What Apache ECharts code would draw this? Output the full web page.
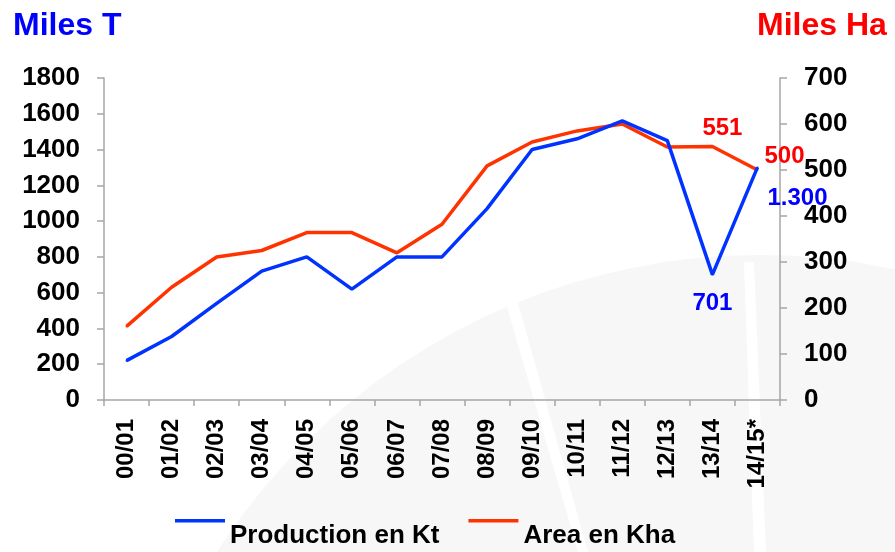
<!DOCTYPE html>
<html>
<head>
<meta charset="utf-8">
<script src="https://cdn.jsdelivr.net/npm/echarts@6/dist/echarts.min.js"></script>
<style>
  html, body { margin: 0; padding: 0; background: #ffffff; }
  #main { width: 895px; height: 552px; }
</style>
</head>
<body>
<div id="main"></div>
<script>
var seasons = ['00/01', '01/02', '02/03', '03/04', '04/05', '05/06', '06/07', '07/08',
  '08/09', '09/10', '10/11', '11/12', '12/13', '13/14', '14/15*'];
// Production en Kt (left axis, miles T)
var production = [220, 355, 540, 720, 800, 620, 800, 800, 1070, 1400, 1460, 1560, 1450, 701, 1300];
// Area en Kha (right axis, miles Ha)
var area = [160, 245, 311, 325, 364, 364, 320, 382, 509, 561, 585, 600, 550, 551, 500];
// labelled points and their text
var productionLabels = { 13: '701', 14: '1.300' };
var areaLabels = { 13: '551', 14: '500' };

var chartDom = document.getElementById('main');
var myChart = echarts.init(chartDom);
var option;

var font = 'Liberation Sans, Arial, sans-serif';
var axisGrey = '#a6a6a6';

// label placement for the few annotated points
var prodLabelStyle = {
  13: { position: 'bottom', distance: 16 },
  14: { position: 'right', distance: 9, offset: [0, 31] }
};
var areaLabelStyle = {
  13: { position: 'top', distance: 5, offset: [10, 0] },
  14: { position: 'top', distance: 5, offset: [27, 4] }
};

function buildData(values, labels, styles, color) {
  return values.map(function (v, i) {
    if (labels[i] === undefined) return v;
    var s = styles[i];
    return {
      value: v,
      label: {
        show: true,
        formatter: labels[i],
        position: s.position,
        distance: s.distance,
        offset: s.offset || [0, 0],
        color: color,
        fontFamily: font,
        fontWeight: 'bold',
        fontSize: 24
      }
    };
  });
}

option = {
  animation: false,
  backgroundColor: '#ffffff',
  // faint watermark behind the plot
  graphic: [
    {
      type: 'circle',
      z: -10,
      silent: true,
      shape: { cx: 760, cy: 900, r: 645 },
      style: { fill: '#f7f7f7' }
    },
    {
      type: 'polygon',
      z: -9,
      silent: true,
      shape: { points: [[744, 262], [754, 262], [766, 552], [754, 552]] },
      style: { fill: '#ffffff' }
    },
    {
      type: 'polygon',
      z: -9,
      silent: true,
      shape: { points: [[505, 300], [516, 296], [588, 552], [578, 552]] },
      style: { fill: '#ffffff' }
    }
  ],
  title: [
    {
      text: 'Miles T',
      left: 13,
      top: 10,
      padding: 0,
      textStyle: { color: '#0000ff', fontFamily: font, fontWeight: 'bold', fontSize: 32 }
    },
    {
      text: 'Miles Ha',
      left: 757,
      top: 10,
      padding: 0,
      textStyle: { color: '#ff0000', fontFamily: font, fontWeight: 'bold', fontSize: 32 }
    }
  ],
  legend: {
    selectedMode: false,
    left: 175,
    top: 519,
    padding: 0,
    itemWidth: 50,
    itemHeight: 34,
    itemGap: 29,
    icon: 'path://M0,0h50v3.5h-50z M0,34h50v0.01h-50z',
    textStyle: { color: '#000000', fontFamily: font, fontWeight: 'bold', fontSize: 26 },
    data: ['Production en Kt', 'Area en Kha']
  },
  grid: {
    left: 104,
    right: 115,
    top: 78,
    bottom: 152,
    containLabel: false
  },
  xAxis: {
    type: 'category',
    boundaryGap: true,
    data: seasons,
    axisLine: { lineStyle: { color: axisGrey, width: 1.5 } },
    axisTick: { show: true, length: 6, alignWithLabel: false, lineStyle: { color: axisGrey, width: 1.5 } },
    axisLabel: {
      rotate: 90,
      interval: 0,
      margin: 19,
      color: '#000000',
      fontFamily: font,
      fontWeight: 'bold',
      fontSize: 24
    },
    splitLine: { show: false }
  },
  yAxis: [
    {
      type: 'value',
      min: 0,
      max: 1800,
      interval: 200,
      position: 'left',
      axisLine: { show: true, lineStyle: { color: axisGrey, width: 1.5 } },
      axisTick: { show: true, length: 7, lineStyle: { color: axisGrey, width: 1.5 } },
      axisLabel: {
        margin: 24, color: '#000000', fontFamily: font, fontWeight: 'bold', fontSize: 26,
        formatter: function (v) { return String(v); }
      },
      splitLine: { show: false }
    },
    {
      type: 'value',
      min: 0,
      max: 700,
      interval: 100,
      position: 'right',
      axisLine: { show: true, lineStyle: { color: axisGrey, width: 1.5 } },
      axisTick: { show: true, length: 7, lineStyle: { color: axisGrey, width: 1.5 } },
      axisLabel: {
        margin: 24, color: '#000000', fontFamily: font, fontWeight: 'bold', fontSize: 26,
        formatter: function (v) { return String(v); }
      },
      splitLine: { show: false }
    }
  ],
  series: [
    {
      name: 'Production en Kt',
      type: 'line',
      yAxisIndex: 0,
      symbol: 'circle',
      symbolSize: 2,
      showSymbol: true,
      color: '#0033ff',
      lineStyle: { color: '#0033ff', width: 3.5 },
      itemStyle: { color: '#0033ff' },
      data: buildData(production, productionLabels, prodLabelStyle, '#0000ff'),
      z: 3
    },
    {
      name: 'Area en Kha',
      type: 'line',
      yAxisIndex: 1,
      symbol: 'circle',
      symbolSize: 2,
      showSymbol: true,
      color: '#ff3300',
      lineStyle: { color: '#ff3300', width: 3.5 },
      itemStyle: { color: '#ff3300' },
      data: buildData(area, areaLabels, areaLabelStyle, '#ff0000'),
      z: 2
    }
  ]
};

if (option && typeof option === 'object') {
  myChart.setOption(option);
}
</script>
</body>
</html>
